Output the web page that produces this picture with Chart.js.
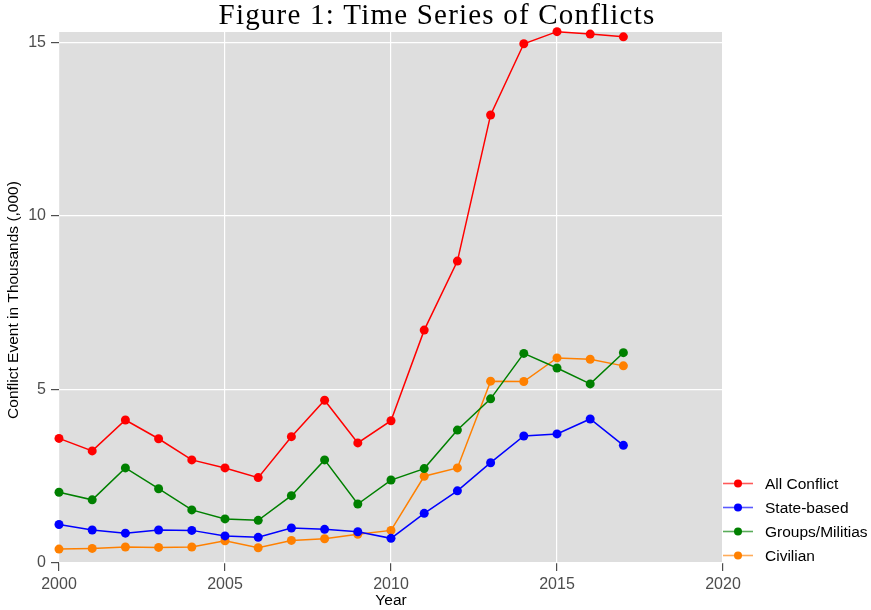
<!DOCTYPE html>
<html>
<head>
<meta charset="utf-8">
<script src="https://cdn.jsdelivr.net/npm/chart.js@4/dist/chart.umd.min.js"></script>
<style>
  html, body { margin: 0; padding: 0; background: #fff; }
  #wrap { width: 871px; height: 610px; }
</style>
</head>
<body>
<div id="wrap"><canvas id="grafico" width="871" height="610"></canvas></div>
<script>
// dados
const years = [2000, 2001, 2002, 2003, 2004, 2005, 2006, 2007, 2008, 2009,
               2010, 2011, 2012, 2013, 2014, 2015, 2016, 2017];
const allConflict = [3.59, 3.23, 4.12, 3.58, 2.97, 2.74, 2.46, 3.64, 4.69, 3.46,
                     4.10, 6.71, 8.70, 12.91, 14.96, 15.31, 15.24, 15.16];
const stateBased = [1.11, 0.95, 0.86, 0.95, 0.94, 0.78, 0.74, 1.01, 0.97, 0.90,
                    0.71, 1.43, 2.08, 2.89, 3.66, 3.72, 4.15, 3.39];
const militias = [2.04, 1.82, 2.74, 2.14, 1.53, 1.27, 1.23, 1.94, 2.97, 1.70,
                  2.39, 2.72, 3.83, 4.73, 6.04, 5.62, 5.16, 6.06];
const civilian = [0.40, 0.42, 0.46, 0.45, 0.46, 0.64, 0.44, 0.65, 0.70, 0.83,
                  0.94, 2.50, 2.74, 5.24, 5.23, 5.91, 5.87, 5.68];
const xTicks = [2000, 2005, 2010, 2015, 2020];
const yTicks = [0, 5, 10, 15];

const seriesNames = ["All Conflict", "State-based", "Groups/Militias", "Civilian"];
const seriesColors = ["#FF0000", "#0000FF", "#008000", "#FF8000"];
const seriesValues = [allConflict, stateBased, militias, civilian];

const tickGray = "#4D4D4D";
const sansFont = "'Liberation Sans', Arial, sans-serif";

const panelBg = {
  id: "panelBg",
  beforeDraw(chart) {
    const a = chart.chartArea;
    const ctx = chart.ctx;
    ctx.save();
    ctx.fillStyle = "#DEDEDE";
    ctx.fillRect(a.left, a.top, a.right - a.left, a.bottom - a.top);
    ctx.restore();
  }
};

// titulo, titulo do eixo y e legenda desenhados a mao
const extras = {
  id: "extras",
  afterDraw(chart) {
    const ctx = chart.ctx;

    ctx.save();
    ctx.fillStyle = "#000";
    ctx.font = "29px 'Liberation Serif', serif";
    ctx.letterSpacing = "1.2px";
    ctx.textAlign = "center";
    ctx.textBaseline = "alphabetic";
    ctx.fillText("Figure 1: Time Series of Conflicts", 437, 24);
    ctx.restore();

    ctx.save();
    ctx.fillStyle = "#000";
    ctx.font = "15.5px " + sansFont;
    ctx.textAlign = "center";
    ctx.textBaseline = "middle";
    ctx.translate(14, 300);
    ctx.rotate(-Math.PI / 2);
    ctx.fillText("Conflict Event in Thousands (,000)", 0, 0);
    ctx.restore();

    ctx.save();
    const rows = [483.5, 507.5, 531.5, 555.5];
    seriesNames.forEach((name, i) => {
      const y = rows[i];
      ctx.strokeStyle = seriesColors[i];
      ctx.globalAlpha = 0.65;
      ctx.lineWidth = 1.6;
      ctx.beginPath();
      ctx.moveTo(723, y);
      ctx.lineTo(753, y);
      ctx.stroke();
      ctx.globalAlpha = 1;
      ctx.fillStyle = seriesColors[i];
      ctx.beginPath();
      ctx.arc(738, y, 4, 0, Math.PI * 2);
      ctx.fill();
      ctx.fillStyle = "#000";
      ctx.font = "15.5px " + sansFont;
      ctx.textAlign = "left";
      ctx.textBaseline = "middle";
      ctx.fillText(name, 765, y + 1);
    });
    ctx.restore();
  }
};

new Chart(document.getElementById("grafico"), {
  type: "line",
  data: {
    datasets: seriesNames.map((name, i) => ({
      label: name,
      data: years.map((yr, j) => ({ x: yr, y: seriesValues[i][j] })),
      borderColor: seriesColors[i],
      backgroundColor: seriesColors[i],
      borderWidth: 1.5,
      pointRadius: 4.5,
      pointBorderWidth: 0,
      pointHoverRadius: 4.5,
      tension: 0,
      clip: false
    }))
  },
  options: {
    responsive: false,
    animation: false,
    events: [],
    layout: { padding: { left: 0, right: 148, top: 32, bottom: 0 } },
    plugins: {
      legend: { display: false },
      tooltip: { enabled: false },
      title: { display: false }
    },
    scales: {
      x: {
        type: "linear",
        min: 2000,
        max: 2020,
        afterBuildTicks(scale) { scale.ticks = xTicks.map(v => ({ value: v })); },
        afterFit(scale) { scale.height = 47; },
        grid: { color: "#FFFFFF", lineWidth: 1.2, tickColor: tickGray, tickLength: 8, drawOnChartArea: true },
        border: { display: false },
        ticks: {
          color: tickGray,
          padding: 4,
          font: { family: sansFont, size: 16 },
          maxRotation: 0,
          callback: v => String(v)
        },
        title: {
          display: true,
          text: "Year",
          color: "#000",
          padding: { top: 0, bottom: 0 },
          font: { family: sansFont, size: 15.5 }
        }
      },
      y: {
        min: 0,
        max: 15.3,
        afterBuildTicks(scale) { scale.ticks = yTicks.map(v => ({ value: v })); },
        afterFit(scale) { scale.width = 59; },
        grid: { color: "#FFFFFF", lineWidth: 1.2, tickColor: tickGray, tickLength: 8 },
        border: { display: false },
        ticks: {
          color: tickGray,
          padding: 5,
          font: { family: sansFont, size: 16 },
          callback: v => String(v)
        }
      }
    }
  },
  plugins: [panelBg, extras]
});
</script>
</body>
</html>
